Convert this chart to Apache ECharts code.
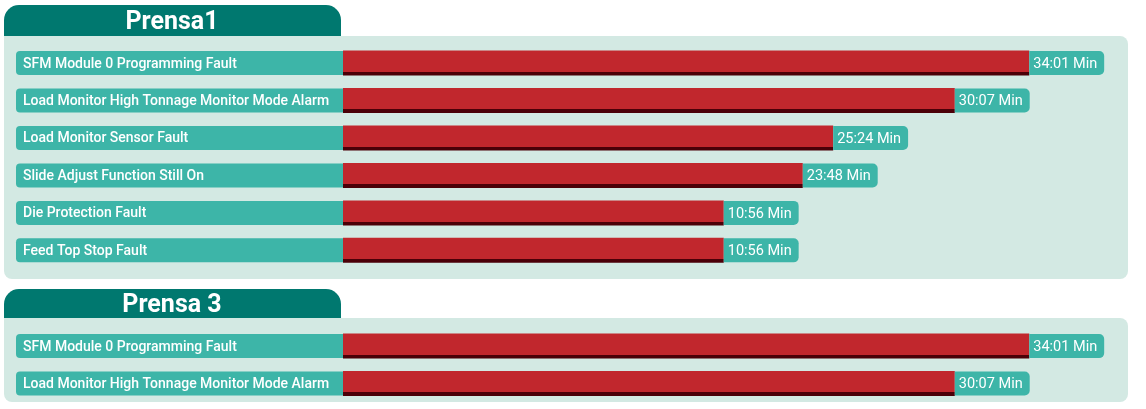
<!DOCTYPE html>
<html>
<head>
<meta charset="utf-8">
<script src="https://cdn.jsdelivr.net/npm/echarts@6/dist/echarts.min.js"></script>
<style>
  html, body { margin: 0; padding: 0; background: #fff; }
  #main { width: 1146px; height: 409px; }
</style>
</head>
<body>
<div id="main"></div>
<script>
// panel titles
var titles = ['Prensa1', 'Prensa 3'];

// Prensa1
var p1Faults = ['SFM Module 0 Programming Fault', 'Load Monitor High Tonnage Monitor Mode Alarm',
  'Load Monitor Sensor Fault', 'Slide Adjust Function Still On', 'Die Protection Fault', 'Feed Top Stop Fault'];
var p1Time = ['34:01 Min', '30:07 Min', '25:24 Min', '23:48 Min', '10:56 Min', '10:56 Min'];
var p1Len = [90.3, 80.5, 64.5, 60.5, 50.1, 50.1];   // bar length, % of track

// Prensa 3
var p3Faults = ['SFM Module 0 Programming Fault', 'Load Monitor High Tonnage Monitor Mode Alarm'];
var p3Time = ['34:01 Min', '30:07 Min'];
var p3Len = [90.3, 80.5];

var TEAL = '#3DB5A8', DARK = '#00786F', PANEL = '#D3E9E3';
var font = 'Roboto';

var dom = document.getElementById('main');
var myChart = echarts.init(dom);

function yAxisFor(idx, cats) {
  return {
    type: 'category', gridIndex: idx, inverse: true, data: cats,
    axisLine: { show: false }, axisTick: { show: false }, splitLine: { show: false },
    axisLabel: {
      margin: 0,
      align: 'right',
      backgroundColor: TEAL,
      borderRadius: [4, 0, 0, 4],
      padding: [2, 0, 0, 7],
      formatter: function (v) { return '{t|' + v + '}'; },
      rich: {
        t: {
          width: 320, height: 22, lineHeight: 22, align: 'left',
          color: '#fff', fontSize: 14, fontWeight: 500, fontFamily: font
        }
      }
    }
  };
}

function barFor(idx, vals, times) {
  return {
    type: 'bar', xAxisIndex: idx, yAxisIndex: idx,
    data: vals, barWidth: 25, silent: true,
    itemStyle: {
      color: new echarts.graphic.LinearGradient(0, 0, 0, 1, [
        { offset: 0, color: '#C1272D' },
        { offset: 0.85, color: '#C1272D' },
        { offset: 0.85, color: '#4B0008' },
        { offset: 1, color: '#4B0008' }
      ])
    },
    label: {
      show: true, position: 'right', distance: 0,
      formatter: function (p) { return '{v|' + times[p.dataIndex] + '}'; },
      backgroundColor: TEAL,
      padding: [2, 7, 0, 4], borderRadius: [0, 5, 5, 0],
      rich: {
        v: { color: '#fff', fontSize: 14.5, fontFamily: font, height: 22, lineHeight: 22 }
      }
    }
  };
}

option = {
  animation: false,
  graphic: [
    { type: 'rect', z: -10, shape: { x: 4, y: 36, width: 1124, height: 243, r: [0, 8, 8, 8] }, style: { fill: PANEL } },
    { type: 'rect', z: -10, shape: { x: 4, y: 5, width: 337, height: 31, r: [15, 15, 0, 0] }, style: { fill: DARK } },
    { type: 'rect', z: -10, shape: { x: 4, y: 318, width: 1124, height: 84, r: [0, 8, 8, 8] }, style: { fill: PANEL } },
    { type: 'rect', z: -10, shape: { x: 4, y: 289, width: 337, height: 29, r: [15, 15, 0, 0] }, style: { fill: DARK } }
  ],
  title: [
    { text: titles[0], left: 172, top: 23, textAlign: 'center', textVerticalAlign: 'middle', padding: 0,
      textStyle: { color: '#fff', fontSize: 25, fontWeight: 'bold', fontFamily: font } },
    { text: titles[1], left: 172, top: 306, textAlign: 'center', textVerticalAlign: 'middle', padding: 0,
      textStyle: { color: '#fff', fontSize: 25, fontWeight: 'bold', fontFamily: font } }
  ],
  grid: [
    { left: 343, right: 43, top: 44.3, height: 224.8 },
    { left: 343, right: 43, top: 327.4, height: 74.8 }
  ],
  xAxis: [
    { type: 'value', gridIndex: 0, min: 0, max: 100, show: false },
    { type: 'value', gridIndex: 1, min: 0, max: 100, show: false }
  ],
  yAxis: [yAxisFor(0, p1Faults), yAxisFor(1, p3Faults)],
  series: [barFor(0, p1Len, p1Time), barFor(1, p3Len, p3Time)]
};

if (option && typeof option === 'object') {
  myChart.setOption(option, true);
}
</script>
</body>
</html>
